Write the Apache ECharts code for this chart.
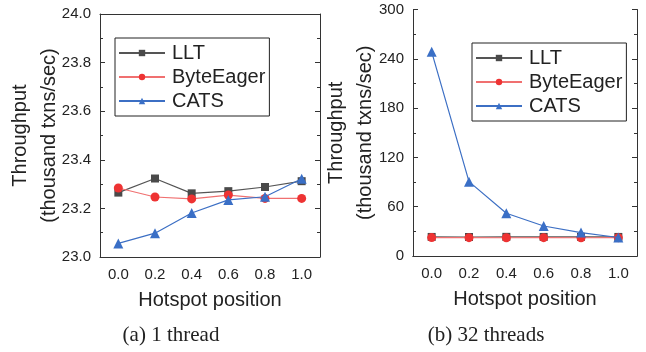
<!DOCTYPE html>
<html>
<head>
<meta charset="utf-8">
<script src="https://cdn.jsdelivr.net/npm/echarts@6/dist/echarts.min.js"></script>
<style>
  html, body { margin: 0; padding: 0; background: #fff; }
  #chart { width: 646px; height: 352px; }
</style>
</head>
<body>
<div id="chart"></div>
<script>
  // hotspot positions (x categories)
  const hotspot = ['0.0', '0.2', '0.4', '0.6', '0.8', '1.0']
  // (a) 1 thread, thousand txns/sec
  const llt1 = [23.265, 23.323, 23.262, 23.271, 23.288, 23.312]
  const byte1 = [23.284, 23.247, 23.239, 23.255, 23.241, 23.241]
  const cats1 = [23.056, 23.098, 23.181, 23.235, 23.248, 23.322]
  // (b) 32 threads
  const llt32 = [23.2, 23.1, 23.3, 23.2, 23.3, 23.2]
  const byte32 = [22.4, 22.3, 22.2, 22.3, 22.2, 22.3]
  const cats32 = [248.5, 90.5, 52, 36.5, 28.5, 22.5]
  // y ticks
  const yTicks1 = [23.0, 23.2, 23.4, 23.6, 23.8, 24.0]
  const yTicks32 = [0, 60, 120, 180, 240, 300]

  const font = 'Liberation Sans, Arial, sans-serif'
  const axisColor = '#333'

  const chart = echarts.init(document.getElementById('chart'))

  function xAxisFor(gridIndex, top) {
    return {
      type: 'category',
      gridIndex: gridIndex,
      position: top ? 'top' : 'bottom',
      data: hotspot,
      boundaryGap: true,
      name: top ? '' : 'Hotspot position',
      nameLocation: 'middle',
      nameGap: 33,
      nameMoveOverlap: false,
      nameTextStyle: { fontFamily: font, fontSize: 20, color: '#222' },
      axisLine: { lineStyle: { color: axisColor, width: 1 } },
      axisTick: { inside: true, alignWithLabel: true, length: 5, lineStyle: { color: axisColor } },
      axisLabel: { show: !top, fontFamily: font, fontSize: 15, color: '#222', margin: 10 },
      splitLine: { show: false }
    }
  }

  function yAxisFor(gridIndex, ticks, right, gap) {
    return {
      type: 'value',
      gridIndex: gridIndex,
      position: right ? 'right' : 'left',
      min: ticks[0],
      max: ticks[ticks.length - 1],
      interval: ticks[1] - ticks[0],
      name: right ? '' : 'Throughput\n(thousand txns/sec)',
      nameLocation: 'middle',
      nameRotate: 90,
      nameGap: gap,
      nameMoveOverlap: false,
      nameTextStyle: { fontFamily: font, fontSize: 20, color: '#222', lineHeight: 29 },
      axisLine: { show: true, lineStyle: { color: axisColor, width: 1 } },
      axisTick: { show: true, inside: true, length: 5, lineStyle: { color: axisColor } },
      minorTick: { show: true, splitNumber: 2, length: 3, lineStyle: { color: axisColor } },
      axisLabel: {
        show: !right, fontFamily: font, fontSize: 15, color: '#222', margin: 9,
        formatter: v => gridIndex === 0 ? v.toFixed(1) : v
      },
      splitLine: { show: false }
    }
  }

  function lineSeries(name, data, gridIndex, style) {
    return {
      type: 'line',
      name: name,
      data: data,
      xAxisIndex: gridIndex * 2,
      yAxisIndex: gridIndex * 2,
      symbol: style.symbol,
      symbolSize: style.size,
      lineStyle: { color: style.line, width: 1.2 },
      itemStyle: { color: style.marker },
      z: style.z
    }
  }

  const lltStyle = { symbol: 'rect', size: 8, line: '#555', marker: '#4a4a4a', z: 2 }
  const byteStyle = { symbol: 'circle', size: 9, line: '#f07070', marker: '#ee3333', z: 3 }
  const catsStyle = { symbol: 'triangle', size: 10, line: '#3c6fc4', marker: '#3a6fc6', z: 4 }

  function legendFor(left, top) {
    return {
      left: left,
      top: top,
      orient: 'vertical',
      data: ['LLT', 'ByteEager', 'CATS'],
      itemWidth: 46,
      itemHeight: 8,
      itemGap: 4,
      padding: [5, 4, 5, 3],
      borderColor: '#222',
      borderWidth: 1,
      textStyle: { fontFamily: font, fontSize: 20, color: '#222', padding: [0, 0, 0, 2] }
    }
  }

  const captionStyle = { fontFamily: 'Liberation Serif, Times New Roman, serif', fontSize: 21, fontWeight: 'normal', color: '#222' }

  const option = {
    animation: false,
    backgroundColor: '#fff',
    title: [
      { text: '(a) 1 thread', left: 166, top: 320, textAlign: 'center', textStyle: captionStyle },
      { text: '(b) 32 threads', left: 481, top: 320, textAlign: 'center', textStyle: captionStyle }
    ],
    grid: [
      { left: 100, top: 14, width: 220, height: 243 },
      { left: 413, top: 9.5, width: 224, height: 246.5 }
    ],
    legend: [legendFor(115, 38), legendFor(472, 43)],
    xAxis: [xAxisFor(0, false), xAxisFor(0, true), xAxisFor(1, false), xAxisFor(1, true)],
    yAxis: [
      yAxisFor(0, yTicks1, false, 36),
      yAxisFor(0, yTicks1, true, 0),
      yAxisFor(1, yTicks32, false, 33),
      yAxisFor(1, yTicks32, true, 0)
    ],
    series: [
      lineSeries('LLT', llt1, 0, lltStyle),
      lineSeries('ByteEager', byte1, 0, byteStyle),
      lineSeries('CATS', cats1, 0, catsStyle),
      lineSeries('LLT', llt32, 1, lltStyle),
      lineSeries('ByteEager', byte32, 1, byteStyle),
      lineSeries('CATS', cats32, 1, catsStyle)
    ]
  }

  chart.setOption(option)
</script>
</body>
</html>
